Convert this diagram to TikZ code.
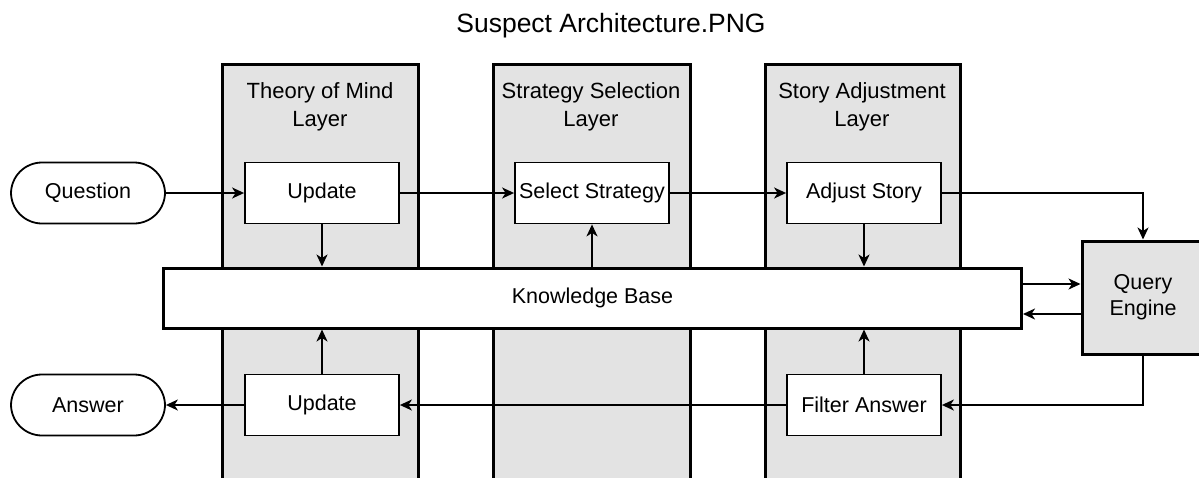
\documentclass[tikz,border=0pt]{standalone}
\usepackage{fontspec}
\setmainfont{Liberation Sans}
\usetikzlibrary{arrows.meta}
\begin{document}
\begin{tikzpicture}[x=1pt,y=-1pt,
  box/.style={draw,line width=1.8pt,fill=white,minimum width=154pt,minimum height=61pt,inner sep=0pt,font=\fontsize{21.5}{26}\selectfont},
  pill/.style={box,rounded corners=31pt},
  col/.style={draw,line width=3pt,fill=black!11},
  arr/.style={line width=1.8pt,-{Stealth[length=12pt,width=11pt,inset=3.5pt]}},
  ttl/.style={align=center,font=\fontsize{22}{27.5}\selectfont}]
\useasboundingbox (0,0) rectangle (1199,477);
\clip (0,0) rectangle (1199,477);
\fill[white] (0,0) rectangle (1199,477);
% layer columns
\draw[col] (222,490) -- (222,64) -- (418,64) -- (418,490);
\draw[col] (493,490) -- (493,64) -- (690,64) -- (690,490);
\draw[col] (765,490) -- (765,64) -- (960,64) -- (960,490);
\node[ttl] (t1) at (320,107) {Theory of Mind\\Layer};
\node[ttl] (t2) at (591,107) {Strategy Selection\\Layer};
\node[ttl] (t3) at (862,107) {Story Adjustment\\Layer};
\node[font=\fontsize{26.5}{30}\selectfont] (title) at (611,26) {Suspect Architecture.PNG};
% nodes
\node[pill] (q) at (88,193) {Question};
\node[pill] (a) at (88,405) {Answer};
\node[box] (u1) at (322,193) {Update};
\node[box] (ss) at (592,193) {Select Strategy};
\node[box] (as) at (864,193) {Adjust Story};
\node[box] (u2) at (322,405) {Update};
\node[box] (fa) at (864,405) {Filter Answer};
\node[box,line width=3pt,minimum width=858pt,minimum height=60pt] (kb) at (592.5,298) {Knowledge Base};
\node[box,line width=3pt,fill=black!11,minimum width=122pt,minimum height=113pt,align=center,font=\fontsize{21.5}{26}\selectfont] (qe) at (1143,297.5) {Query\\Engine};
% arrows
\draw[arr] (q) -- (u1);
\draw[arr] (u1) -- (ss);
\draw[arr] (ss) -- (as);
\draw[arr] (as.east) -| (qe.north);
\draw[arr] (u1) -- (kb.north -| u1);
\draw[arr] (kb.north -| ss) -- (ss);
\draw[arr] (as) -- (kb.north -| as);
\draw[arr] (kb.east |- 0,284) -- (qe.west |- 0,284);
\draw[arr] (qe.west |- 0,314) -- (kb.east |- 0,314);
\draw[arr] (qe.south) |- (fa.east);
\draw[arr] (fa) -- (u2);
\draw[arr] (u2) -- (a);
\draw[arr] (u2) -- (kb.south -| u2);
\draw[arr] (fa) -- (kb.south -| fa);
\end{tikzpicture}
\end{document}
